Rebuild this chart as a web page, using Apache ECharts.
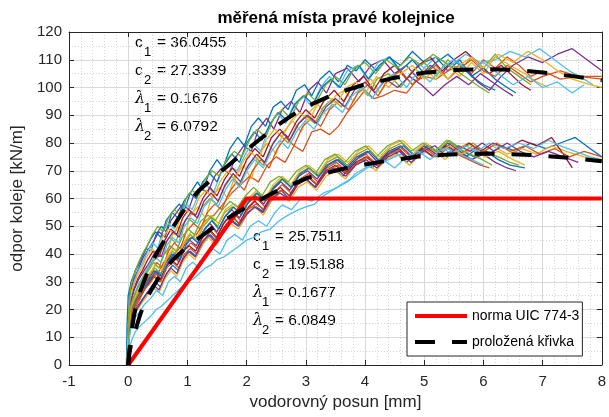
<!DOCTYPE html>
<html><head><meta charset="utf-8">
<script src="https://cdn.jsdelivr.net/npm/echarts@6/dist/echarts.min.js"></script>
<style>html,body{margin:0;padding:0;background:#fff}#c{width:609px;height:417px}</style>
</head><body><div id="c"></div>
<script>
// ---- data ----
const titleText = 'měřená místa pravé kolejnice';
const xLabel = 'vodorovný posun [mm]';
const yLabel = 'odpor koleje [kN/m]';
const legendNames = ['norma UIC 774-3', 'proložená křivka'];
const xTicks = [-1, 0, 1, 2, 3, 4, 5, 6, 7, 8];
const yTicks = [0, 10, 20, 30, 40, 50, 60, 70, 80, 90, 100, 110, 120];

const normUIC = [[0,0],[2,60],[8,60]];
const fitUpper = [[0,0],[0.02,5],[0.05,11],[0.1,18],[0.15,23],[0.2,26.5],[0.3,32],[0.4,37],[0.5,41],[0.6,44.5],[0.75,49.5],[0.9,54.5],[1.0,57.8],[1.2,63],[1.5,68.5],[1.75,73],[2.0,77.5],[2.32,83],[2.55,86.8],[2.77,90],[3.0,93],[3.5,97.8],[3.95,100.8],[4.5,103.5],[5.0,105.3],[5.5,106.3],[6.0,106.6],[6.5,106.4],[7.0,105.4],[7.5,104.1],[8.0,102.6]];
const fitLower = [[0,0],[0.02,4.3],[0.05,7.5],[0.1,11],[0.15,14.5],[0.2,18],[0.27,22],[0.35,25.5],[0.5,31],[0.75,37.8],[1.0,42.8],[1.25,46.6],[1.42,49.3],[1.75,53.8],[2.0,57],[2.49,62.5],[3.05,67.6],[3.67,70.9],[4.28,73.3],[4.9,75.1],[5.44,75.9],[6.09,76.2],[6.7,75.8],[7.32,74.9],[8.0,73.4]];

const annUpper = [['c','1','= 36.0455'],['c','2','= 27.3339'],['λ','1','= 0.1676'],['λ','2','= 6.0792']];
const annLower = [['c','1','= 25.7511'],['c','2','= 19.5188'],['λ','1','= 0.1677'],['λ','2','= 6.0849']];

// measured curves, upper group
const U1 = [[0,0],[0.01,15],[0.03,26],[0.07,29],[0.12,34],[0.2,37],[0.3,42],[0.38,41],[0.47,47],[0.56,50],[0.64,48],[0.74,55],[0.86,58],[0.95,56],[1.05,62],[1.17,66],[1.26,63],[1.38,70],[1.5,74],[1.6,71],[1.72,78],[1.85,82],[1.96,79],[2.08,86],[2.2,89],[2.32,86],[2.45,93],[2.58,95],[2.7,92],[2.84,99],[2.98,101],[3.1,97],[3.24,103],[3.4,106],[3.55,102],[3.7,108],[3.85,106],[4.0,110],[4.2,106],[4.4,111],[4.6,108],[4.8,113],[5.0,109],[5.2,111],[5.4,106],[5.6,110],[5.8,104],[6.0,101],[6.2,99]];
const U2 = [[-0.02,0],[-0.01,10],[0.02,18],[0.08,22],[0.15,25],[0.25,28],[0.35,31],[0.5,33],[0.6,37],[0.75,39],[0.9,43],[1.0,45],[1.15,47],[1.3,52],[1.45,54],[1.6,58],[1.75,62],[1.9,65],[2.05,68],[2.2,66],[2.35,72],[2.5,75],[2.65,73],[2.8,79],[2.95,77],[3.1,84],[3.25,85],[3.4,83],[3.55,86],[3.7,91],[3.85,95],[4.0,99],[4.15,96],[4.3,97],[4.5,99],[4.7,98],[4.85,102],[5.0,104],[5.2,103],[5.4,106],[5.6,108],[5.8,105],[6.0,110],[6.2,107],[6.4,111],[6.6,108],[6.8,104],[7.0,106],[7.3,103],[7.6,104],[8.0,103]];
const U3 = [[0,0],[0.02,12],[0.05,20],[0.1,24],[0.18,29],[0.27,33],[0.36,35],[0.45,40],[0.55,43],[0.65,40],[0.75,47],[0.85,50],[0.95,46],[1.05,54],[1.18,57],[1.3,53],[1.42,61],[1.55,64],[1.68,60],[1.8,68],[1.95,72],[2.08,67],[2.2,76],[2.35,80],[2.5,76],[2.62,84],[2.78,88],[2.92,84],[3.05,91],[3.2,94],[3.35,90],[3.5,97],[3.65,99],[3.8,95],[3.95,101],[4.1,103],[4.25,98],[4.4,104],[4.6,106],[4.8,101],[5.0,107],[5.2,103],[5.4,108],[5.6,104],[5.8,109],[6.0,105],[6.2,111],[6.45,108],[6.7,105],[6.9,102],[7.1,100]];
const U4 = [[0,0],[0.01,18],[0.04,27],[0.1,31],[0.18,35],[0.26,39],[0.35,42],[0.44,45],[0.52,48],[0.62,46],[0.72,52],[0.82,55],[0.92,58],[1.02,56],[1.12,62],[1.22,64],[1.34,62],[1.46,68],[1.58,71],[1.7,69],[1.82,75],[1.95,79],[2.08,77],[2.2,85],[2.34,89],[2.46,85],[2.6,92],[2.75,95],[2.9,91],[3.05,99],[3.2,102],[3.35,98],[3.5,105],[3.7,107],[3.9,102],[4.1,108],[4.3,110],[4.5,105],[4.7,108],[4.9,103],[5.1,108],[5.3,105],[5.5,110],[5.7,107],[5.9,102],[6.1,99],[6.3,104],[6.5,108],[6.75,111],[7.0,109],[7.25,112],[7.5,114],[7.75,110],[8.0,106]];
const U5 = [[0,0],[0.03,14],[0.06,21],[0.12,26],[0.2,30],[0.3,33],[0.4,37],[0.5,39],[0.6,43],[0.7,46],[0.8,44],[0.9,50],[1.0,53],[1.12,51],[1.25,57],[1.38,60],[1.5,58],[1.62,64],[1.75,68],[1.88,65],[2.0,71],[2.14,75],[2.28,72],[2.42,79],[2.56,83],[2.7,80],[2.84,86],[3.0,90],[3.15,87],[3.3,93],[3.45,96],[3.6,93],[3.75,99],[3.9,101],[4.05,97],[4.2,103],[4.4,105],[4.6,100],[4.8,106],[5.0,109],[5.2,104],[5.4,110],[5.6,106],[5.8,111],[6.0,107],[6.2,112],[6.4,107],[6.6,104],[6.8,101]];
const U6 = [[0,0],[0.02,16],[0.05,25],[0.1,30],[0.17,34],[0.25,37],[0.33,41],[0.42,44],[0.5,42],[0.58,48],[0.68,51],[0.78,49],[0.88,55],[0.98,58],[1.08,56],[1.2,62],[1.32,65],[1.44,62],[1.56,69],[1.7,72],[1.84,70],[1.98,76],[2.1,80],[2.24,77],[2.38,86],[2.52,91],[2.66,87],[2.8,94],[2.95,97],[3.1,93],[3.25,100],[3.4,104],[3.55,100],[3.7,106],[3.88,108],[4.05,103],[4.22,109],[4.4,111],[4.6,106],[4.8,110],[5.0,107],[5.2,111],[5.45,108],[5.7,112],[5.95,109],[6.2,110],[6.45,113],[6.7,111],[6.95,114],[7.2,110],[7.45,106],[7.7,103],[7.85,101]];
const U7 = [[0,0],[0.01,13],[0.04,22],[0.09,27],[0.16,31],[0.24,34],[0.33,38],[0.42,41],[0.52,39],[0.62,45],[0.72,49],[0.82,47],[0.92,53],[1.02,56],[1.14,54],[1.26,60],[1.38,64],[1.5,61],[1.63,67],[1.76,71],[1.88,68],[2.0,74],[2.14,78],[2.28,75],[2.42,82],[2.56,85],[2.7,82],[2.85,88],[3.0,92],[3.15,89],[3.3,95],[3.48,99],[3.64,95],[3.8,101],[3.98,104],[4.15,99],[4.32,105],[4.5,108],[4.7,103],[4.9,108],[5.1,111],[5.3,106],[5.5,110],[5.7,113],[5.9,109],[6.1,105],[6.3,108],[6.5,104],[6.65,101],[6.8,99]];
const U8 = [[-0.03,0],[-0.02,14],[0.0,25],[0.05,30],[0.12,34],[0.2,38],[0.28,41],[0.37,45],[0.46,48],[0.55,46],[0.64,52],[0.74,55],[0.84,53],[0.94,59],[1.04,62],[1.15,60],[1.26,66],[1.38,69],[1.5,66],[1.62,72],[1.75,76],[1.88,73],[2.0,80],[2.13,84],[2.26,81],[2.4,87],[2.54,91],[2.68,88],[2.82,94],[2.97,97],[3.12,94],[3.27,100],[3.42,103],[3.58,100],[3.74,105],[3.9,108],[4.06,103],[4.24,108],[4.42,111],[4.6,106],[4.8,110],[5.0,105],[5.2,109],[5.4,112],[5.6,108],[5.8,104],[6.0,107],[6.2,103],[6.4,100],[6.55,98]];
const U9 = [[0,0],[0.02,11],[0.05,18],[0.11,22],[0.19,26],[0.28,30],[0.38,33],[0.48,37],[0.58,35],[0.68,41],[0.78,44],[0.88,42],[0.98,48],[1.1,51],[1.22,49],[1.34,55],[1.46,58],[1.58,56],[1.7,62],[1.83,66],[1.96,63],[2.1,70],[2.24,74],[2.38,71],[2.52,78],[2.66,82],[2.8,79],[2.95,86],[3.1,89],[3.25,86],[3.4,92],[3.56,95],[3.72,92],[3.88,98],[4.05,101],[4.22,97],[4.4,103],[4.6,106],[4.8,101],[5.0,105],[5.2,108],[5.4,103],[5.6,107],[5.8,110],[6.0,106],[6.2,104],[6.4,108],[6.6,105],[6.8,102],[7.0,104],[7.3,106],[7.6,104],[8.0,104]];
const U10 = [[0,0],[0.01,17],[0.03,24],[0.08,28],[0.15,32],[0.23,35],[0.31,39],[0.4,42],[0.49,40],[0.58,46],[0.68,49],[0.78,47],[0.88,53],[0.98,56],[1.08,54],[1.19,60],[1.31,63],[1.43,60],[1.55,66],[1.68,70],[1.8,67],[1.93,73],[2.06,77],[2.2,74],[2.33,81],[2.47,85],[2.6,82],[2.75,88],[2.9,91],[3.05,88],[3.2,94],[3.36,97],[3.52,94],[3.68,100],[3.85,102],[4.0,98],[4.2,104],[4.4,100],[4.6,105],[4.8,108],[5.0,103],[5.2,107],[5.4,103],[5.6,108],[5.8,111],[6.0,107],[6.25,112],[6.5,109],[6.75,113],[7.0,110],[7.25,106],[7.5,103],[7.8,101],[8.0,100]];
const U11 = [[0,0],[0.02,15],[0.05,23],[0.1,27],[0.18,31],[0.27,34],[0.36,37],[0.46,41],[0.56,39],[0.66,45],[0.76,48],[0.86,46],[0.96,52],[1.06,55],[1.17,53],[1.28,59],[1.4,62],[1.52,59],[1.64,65],[1.77,69],[1.9,66],[2.03,72],[2.17,76],[2.31,73],[2.45,80],[2.59,84],[2.73,81],[2.88,87],[3.03,90],[3.18,87],[3.34,93],[3.5,96],[3.66,93],[3.82,99],[4.0,102],[4.17,98],[4.35,103],[4.55,100],[4.75,104],[4.95,101],[5.15,97],[5.35,101],[5.55,104],[5.75,101],[5.95,105],[6.15,102],[6.35,99],[6.5,97]];
const U12 = [[0,0],[0.01,19],[0.04,28],[0.09,32],[0.16,36],[0.24,40],[0.32,43],[0.41,47],[0.5,50],[0.59,48],[0.68,53],[0.78,56],[0.88,54],[0.98,60],[1.08,63],[1.19,61],[1.3,67],[1.42,70],[1.54,68],[1.66,74],[1.79,77],[1.92,75],[2.05,81],[2.18,85],[2.32,82],[2.46,89],[2.6,92],[2.74,89],[2.88,95],[3.03,98],[3.18,95],[3.34,101],[3.5,104],[3.66,101],[3.82,107],[4.0,109],[4.18,105],[4.36,110],[4.55,107],[4.75,111],[4.95,108],[5.15,112],[5.35,109],[5.55,106],[5.75,103],[5.95,100],[6.1,98]];
const U13 = [[0,0],[0.02,13],[0.05,21],[0.1,25],[0.17,29],[0.26,32],[0.35,36],[0.45,39],[0.55,37],[0.65,43],[0.75,46],[0.85,44],[0.95,50],[1.06,53],[1.17,51],[1.28,57],[1.4,60],[1.52,57],[1.64,63],[1.76,67],[1.88,64],[2.0,70],[2.14,74],[2.28,71],[2.42,77],[2.56,81],[2.7,78],[2.84,84],[2.99,88],[3.14,85],[3.3,91],[3.46,94],[3.62,91],[3.78,97],[3.95,100],[4.12,96],[4.3,102],[4.5,105],[4.7,100],[4.9,106],[5.1,102],[5.3,107],[5.5,110],[5.75,106],[6.0,109],[6.25,105],[6.5,101],[6.75,104],[7.0,100],[7.25,102],[7.5,98],[7.7,101]];

// measured curves, lower group
const L1 = [[0,0],[0.01,9],[0.03,15],[0.08,18],[0.15,21],[0.25,24],[0.35,27],[0.45,30],[0.55,28],[0.65,33],[0.75,36],[0.85,34],[0.95,39],[1.05,41],[1.15,39],[1.27,44],[1.39,47],[1.51,44],[1.63,49],[1.76,52],[1.89,50],[2.02,55],[2.16,57],[2.3,55],[2.44,60],[2.58,63],[2.72,60],[2.86,65],[3.0,67],[3.15,64],[3.3,69],[3.46,71],[3.62,68],[3.78,72],[3.95,74],[4.12,71],[4.3,75],[4.5,77],[4.7,73],[4.9,77],[5.1,79],[5.3,75],[5.5,78],[5.7,75],[5.9,78],[6.1,76],[6.3,79],[6.55,77],[6.8,80],[7.05,78],[7.3,80],[7.55,82],[7.8,78],[8.0,75]];
const L2 = [[0,0],[0.02,12],[0.05,17],[0.1,20],[0.18,23],[0.27,27],[0.36,30],[0.46,33],[0.56,31],[0.66,36],[0.76,39],[0.86,37],[0.96,42],[1.06,44],[1.17,42],[1.28,47],[1.4,50],[1.52,47],[1.64,52],[1.77,55],[1.9,52],[2.03,57],[2.17,60],[2.31,57],[2.45,62],[2.6,65],[2.75,62],[2.9,67],[3.05,69],[3.2,66],[3.36,71],[3.52,73],[3.68,70],[3.85,74],[4.02,76],[4.2,72],[4.38,76],[4.56,78],[4.75,74],[4.95,78],[5.15,75],[5.35,79],[5.55,76],[5.75,74],[5.95,72],[6.1,71]];
const L3 = [[-0.02,0],[-0.01,8],[0.01,13],[0.06,16],[0.13,19],[0.22,22],[0.32,25],[0.42,28],[0.52,26],[0.62,31],[0.72,34],[0.82,32],[0.92,37],[1.02,40],[1.13,38],[1.24,43],[1.36,46],[1.48,43],[1.6,48],[1.73,51],[1.86,49],[2.0,54],[2.14,57],[2.28,54],[2.42,59],[2.57,62],[2.72,59],[2.87,64],[3.02,66],[3.18,63],[3.34,68],[3.5,70],[3.67,67],[3.84,72],[4.01,74],[4.18,70],[4.36,74],[4.55,76],[4.75,72],[4.95,76],[5.15,78],[5.35,74],[5.55,78],[5.75,80],[5.95,76],[6.15,79],[6.4,76],[6.65,78],[6.9,76],[7.15,79],[7.4,77],[7.7,75],[8.0,74]];
const L4 = [[0,0],[0.01,11],[0.04,18],[0.09,22],[0.16,25],[0.25,28],[0.34,31],[0.44,34],[0.54,32],[0.64,37],[0.74,40],[0.84,38],[0.94,43],[1.04,45],[1.15,43],[1.26,48],[1.38,51],[1.5,48],[1.62,53],[1.75,56],[1.88,53],[2.01,58],[2.15,61],[2.29,58],[2.43,63],[2.58,66],[2.73,63],[2.88,68],[3.03,70],[3.19,67],[3.35,72],[3.52,74],[3.69,71],[3.86,75],[4.04,77],[4.22,73],[4.4,77],[4.6,79],[4.8,75],[5.0,79],[5.2,76],[5.4,80],[5.6,77],[5.8,74],[6.0,76],[6.2,73],[6.4,71],[6.55,70]];
const L5 = [[0,0],[0.02,14],[0.05,20],[0.1,23],[0.17,26],[0.26,29],[0.35,32],[0.45,35],[0.55,33],[0.65,38],[0.75,41],[0.85,39],[0.95,44],[1.05,47],[1.16,45],[1.27,50],[1.39,53],[1.51,50],[1.63,55],[1.76,57],[1.89,55],[2.02,59],[2.16,62],[2.3,59],[2.44,64],[2.59,67],[2.74,64],[2.89,69],[3.04,71],[3.2,68],[3.36,73],[3.53,75],[3.7,72],[3.87,76],[4.05,78],[4.23,74],[4.42,78],[4.62,80],[4.82,76],[5.02,80],[5.22,77],[5.42,81],[5.62,78],[5.82,80],[6.02,77],[6.25,75],[6.45,73],[6.6,72]];
const L6 = [[0,0],[0.02,6],[0.06,9],[0.12,12],[0.2,14],[0.3,16],[0.4,18],[0.47,20],[0.55,21],[0.65,23],[0.75,25],[0.85,27],[1.0,30],[1.1,31],[1.2,33],[1.3,35],[1.4,36],[1.5,38],[1.62,39],[1.75,41],[1.88,43],[2.0,45],[2.12,46],[2.25,48],[2.4,49],[2.55,52],[2.7,54],[2.88,56],[3.0,57],[3.15,58],[3.3,61],[3.45,63],[3.6,65],[3.75,67],[3.84,69],[4.0,71],[4.2,72],[4.4,74],[4.6,76],[4.8,74],[5.0,77],[5.2,75],[5.4,78],[5.6,76],[5.8,74],[6.0,72]];
const L7 = [[0,0],[0.01,10],[0.03,16],[0.08,20],[0.15,23],[0.24,26],[0.33,29],[0.43,32],[0.53,30],[0.63,35],[0.73,38],[0.83,36],[0.93,41],[1.03,43],[1.14,41],[1.25,46],[1.37,49],[1.49,46],[1.61,51],[1.74,54],[1.87,51],[2.0,56],[2.14,59],[2.28,56],[2.42,61],[2.57,64],[2.72,61],[2.87,66],[3.02,68],[3.18,65],[3.34,70],[3.5,72],[3.67,69],[3.84,73],[4.02,75],[4.2,72],[4.38,76],[4.57,78],[4.76,74],[4.96,78],[5.16,75],[5.36,79],[5.56,77],[5.76,80],[5.96,77],[6.16,80],[6.4,78],[6.65,81],[6.9,79],[7.15,82],[7.35,76],[7.5,71]];
const L8 = [[0,0],[0.02,13],[0.05,19],[0.11,22],[0.19,25],[0.28,28],[0.37,31],[0.47,34],[0.57,32],[0.67,37],[0.77,40],[0.87,38],[0.97,43],[1.07,46],[1.18,44],[1.29,49],[1.41,52],[1.53,49],[1.65,54],[1.78,57],[1.91,54],[2.04,59],[2.18,62],[2.32,59],[2.46,64],[2.61,67],[2.76,64],[2.91,69],[3.06,71],[3.22,68],[3.38,72],[3.55,74],[3.72,71],[3.9,75],[4.08,77],[4.26,73],[4.45,77],[4.65,79],[4.85,75],[5.05,79],[5.25,76],[5.45,80],[5.65,77],[5.85,75],[6.05,77],[6.25,74],[6.45,72],[6.7,71]];
const L9 = [[0,0],[0.01,12],[0.04,18],[0.09,21],[0.17,24],[0.26,27],[0.35,29],[0.45,32],[0.55,30],[0.65,35],[0.75,37],[0.85,35],[0.95,40],[1.05,42],[1.16,40],[1.27,45],[1.39,48],[1.51,45],[1.63,50],[1.76,53],[1.89,51],[2.02,56],[2.16,58],[2.3,56],[2.44,61],[2.59,63],[2.74,61],[2.89,66],[3.04,68],[3.2,65],[3.36,70],[3.53,72],[3.7,69],[3.87,73],[4.05,75],[4.23,72],[4.42,76],[4.62,78],[4.82,74],[5.02,78],[5.22,75],[5.42,79],[5.62,76],[5.82,79],[6.02,77],[6.22,80],[6.45,77],[6.7,79],[6.95,76],[7.2,78],[7.45,75],[7.7,77],[8.0,75]];
const L10 = [[0,0],[0.02,15],[0.05,21],[0.1,24],[0.18,27],[0.27,30],[0.36,33],[0.46,36],[0.56,34],[0.66,39],[0.76,42],[0.86,40],[0.96,45],[1.06,48],[1.17,46],[1.28,51],[1.4,54],[1.52,51],[1.64,56],[1.77,58],[1.9,56],[2.03,60],[2.17,63],[2.31,60],[2.45,65],[2.6,68],[2.75,65],[2.9,70],[3.05,72],[3.21,69],[3.37,74],[3.54,76],[3.71,73],[3.88,77],[4.06,79],[4.24,75],[4.43,79],[4.63,81],[4.83,77],[5.03,80],[5.23,76],[5.43,79],[5.63,76],[5.83,78],[6.03,75],[6.25,77],[6.5,74],[6.7,72]];
const L11 = [[0,0],[0.01,9],[0.03,14],[0.07,17],[0.14,20],[0.23,23],[0.32,26],[0.42,29],[0.52,27],[0.62,32],[0.72,35],[0.82,33],[0.92,38],[1.02,41],[1.13,39],[1.24,44],[1.36,47],[1.48,44],[1.6,49],[1.73,52],[1.86,50],[1.99,54],[2.13,57],[2.27,55],[2.41,60],[2.56,62],[2.71,60],[2.86,65],[3.01,67],[3.17,64],[3.33,69],[3.5,71],[3.67,68],[3.84,72],[4.02,74],[4.2,71],[4.39,75],[4.58,77],[4.78,73],[4.98,77],[5.18,79],[5.38,75],[5.58,79],[5.78,77],[5.98,80],[6.18,77],[6.4,80],[6.62,77],[6.85,75],[7.1,77],[7.35,75],[7.6,73]];
const L12 = [[0,0],[0.02,17],[0.05,22],[0.1,25],[0.17,28],[0.25,31],[0.34,34],[0.43,37],[0.52,35],[0.61,40],[0.71,43],[0.81,41],[0.91,46],[1.01,49],[1.12,47],[1.23,52],[1.35,54],[1.47,52],[1.59,56],[1.72,59],[1.85,57],[1.98,61],[2.12,64],[2.26,61],[2.4,66],[2.55,68],[2.7,66],[2.85,70],[3.0,72],[3.16,69],[3.32,74],[3.49,76],[3.66,73],[3.83,77],[4.01,79],[4.19,75],[4.38,79],[4.58,81],[4.78,77],[4.98,80],[5.18,77],[5.38,81],[5.58,78],[5.78,76],[5.98,74],[6.15,72]];
const L13 = [[0,0],[0.02,10],[0.05,14],[0.11,17],[0.19,19],[0.28,22],[0.38,24],[0.48,27],[0.58,25],[0.68,30],[0.78,32],[0.88,30],[0.98,35],[1.09,37],[1.2,35],[1.31,40],[1.43,42],[1.55,40],[1.67,45],[1.8,47],[1.93,45],[2.06,50],[2.2,52],[2.34,50],[2.48,55],[2.6,57.7],[2.76,56],[2.94,60.6],[3.1,59],[3.3,62],[3.5,63.6],[3.7,66],[3.9,69],[4.1,72],[4.3,74],[4.5,71],[4.7,75],[4.9,77],[5.1,74],[5.3,78],[5.5,76],[5.7,79],[5.9,77],[6.1,80],[6.35,78],[6.6,80],[6.85,78],[7.1,81],[7.3,79],[7.55,77],[7.8,75],[8.0,74]];

const upperCurves = [U1,U2,U3,U4,U5,U6,U7,U8,U9,U10,U11,U12,U13];
const lowerCurves = [L1,L2,L3,L4,L5,L6,L7,L8,L9,L10,L11,L12,L13];

// ---- styling ----
const palette = ['#0072BD','#D95319','#EDB120','#7E2F8E','#77AC30','#4DBEEE','#A2142F'];
const FONT = '"Liberation Sans", Arial, Helvetica, sans-serif';
const AX = '#262626';

const series = [];
[upperCurves, lowerCurves].forEach(group => group.forEach((d, i) => {
  series.push({type:'line', data:d, symbol:'none', silent:true, animation:false,
    lineStyle:{width:1.3, color: palette[i % 7]}, z:2});
}));
series.push({type:'line', name:legendNames[0], data:normUIC, symbol:'none', animation:false,
  lineStyle:{width:4, color:'#FF0000'}, itemStyle:{color:'#FF0000'}, z:3});
[fitUpper, fitLower].forEach(d => series.push({type:'line', name:legendNames[1], data:d, symbol:'none', animation:false,
  lineStyle:{width:4, color:'#000', type:[20,17], cap:'butt'}, itemStyle:{color:'#000'}, z:4}));

const graphics = [{type:'text', x:336, y:18, style:{text:titleText, font:'bold 17px '+FONT, fill:'#000', align:'center', verticalAlign:'middle'}}];
function addAnn(rows, x0, y0) {
  rows.forEach((r, k) => {
    const y = y0 + k * 28;
    const isL = r[0] === 'λ';
    graphics.push({type:'text', x:x0, y:y, style:{text:r[0], font:(isL?'italic 16px "DejaVu Serif", serif':'15.5px '+FONT), fill:'#000', verticalAlign:'middle'}});
    graphics.push({type:'text', x:x0+9, y:y+9, style:{text:r[1], font:'13px '+FONT, fill:'#000', verticalAlign:'middle'}});
    graphics.push({type:'text', x:x0+22, y:y, style:{text:r[2], font:'15.5px '+FONT, fill:'#000', verticalAlign:'middle'}});
  });
}
addAnn(annUpper, 135, 43);
addAnn(annLower, 253, 237);

const baseX = {type:'value', min:xTicks[0], max:xTicks[xTicks.length-1], interval:1};
const baseY = {type:'value', min:yTicks[0], max:yTicks[yTicks.length-1], interval:10};
const option = {
  animation:false,
  backgroundColor:'#fff',
  grid:{left:69, right:6, top:32, bottom:52, show:false},
  xAxis:[
    Object.assign({}, baseX, {position:'bottom',
      axisLine:{show:true, onZero:false, lineStyle:{color:AX, width:1}},
      axisTick:{show:true, inside:true, length:5, lineStyle:{color:AX}},
      axisLabel:{color:AX, fontSize:15, fontFamily:FONT, margin:9},
      splitLine:{show:true, lineStyle:{color:'#d9d9d9', width:1}},
      minorTick:{show:false, splitNumber:5},
      minorSplitLine:{show:true, lineStyle:{color:'#d6d6d6', width:1, type:[1,2]}},
      name:xLabel, nameLocation:'middle', nameGap:25,
      nameTextStyle:{fontSize:17, color:AX, fontFamily:FONT}}),
    Object.assign({}, baseX, {position:'top',
      axisLine:{show:true, onZero:false, lineStyle:{color:AX, width:1}},
      axisTick:{show:true, inside:true, length:5, lineStyle:{color:AX}},
      axisLabel:{show:false}, splitLine:{show:false}})
  ],
  yAxis:[
    Object.assign({}, baseY, {position:'left',
      axisLine:{show:true, onZero:false, lineStyle:{color:AX, width:1}},
      axisTick:{show:true, inside:true, length:5, lineStyle:{color:AX}},
      axisLabel:{color:AX, fontSize:15, fontFamily:FONT, margin:7},
      splitLine:{show:true, lineStyle:{color:'#d9d9d9', width:1}},
      minorTick:{show:false, splitNumber:2},
      minorSplitLine:{show:true, lineStyle:{color:'#d6d6d6', width:1, type:[1,2]}},
      name:yLabel, nameLocation:'middle', nameGap:42,
      nameTextStyle:{fontSize:17, color:AX, fontFamily:FONT}}),
    Object.assign({}, baseY, {position:'right',
      axisLine:{show:true, onZero:false, lineStyle:{color:AX, width:1}},
      axisTick:{show:true, inside:true, length:5, lineStyle:{color:AX}},
      axisLabel:{show:false}, splitLine:{show:false}})
  ],
  legend:{
    data:[
      {name:legendNames[0], icon:'path://M0,0H52V4H0Z'},
      {name:legendNames[1], icon:'path://M0,0H20V4H0Z M37,0H52V4H37Z'}
    ],
    left:407, top:302, orient:'vertical', itemWidth:52, itemHeight:4, itemGap:10,
    padding:[6,3,6,8], backgroundColor:'#fff', borderColor:AX, borderWidth:1, borderRadius:0,
    selectedMode:false, textStyle:{fontSize:14, color:'#000', fontFamily:FONT, lineHeight:16}},
  graphic:graphics,
  series:series
};
const chart = echarts.init(document.getElementById('c'), null, {renderer:'canvas'});
chart.setOption(option);
</script></body></html>
